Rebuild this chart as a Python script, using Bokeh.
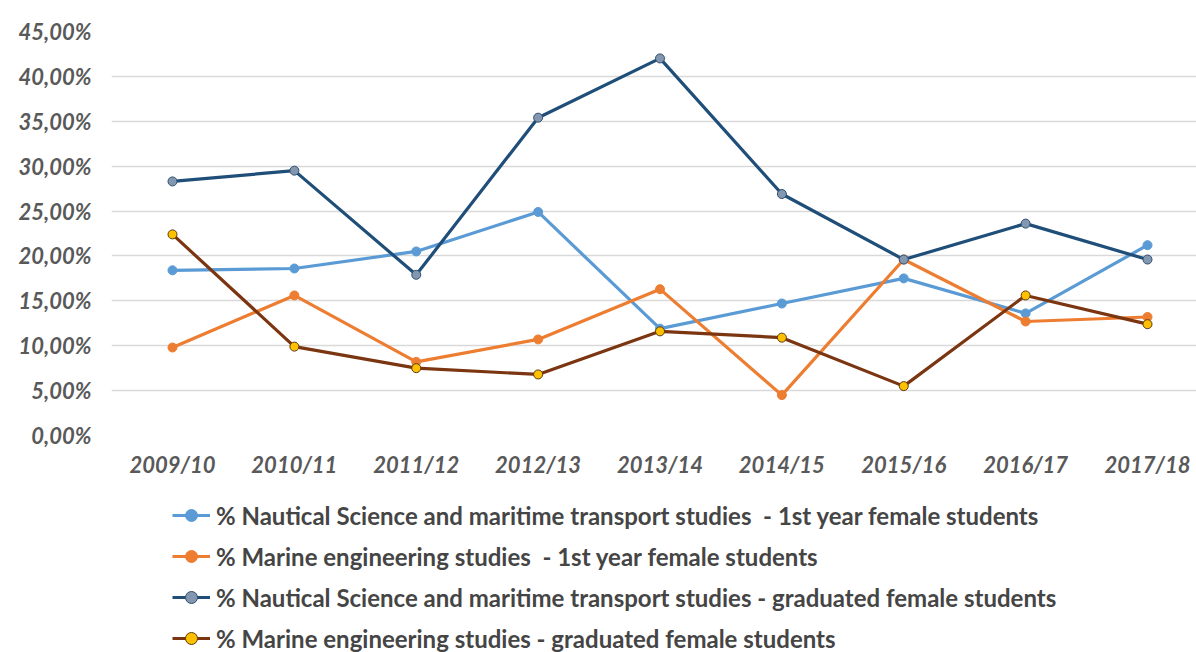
from bokeh.plotting import figure
from bokeh.layouts import column
from bokeh.models import Range1d, FixedTicker, Legend, LegendItem
from bokeh.embed import file_html
from bokeh.resources import INLINE

years = ["2009/10", "2010/11", "2011/12", "2012/13", "2013/14",
         "2014/15", "2015/16", "2016/17", "2017/18"]
nautical_1st = [18.4, 18.6, 20.5, 24.9, 11.9, 14.7, 17.5, 13.6, 21.2]
marine_1st = [9.8, 15.6, 8.2, 10.7, 16.3, 4.5, 19.6, 12.7, 13.2]
nautical_grad = [28.3, 29.5, 17.9, 35.4, 42.0, 26.9, 19.6, 23.6, 19.6]
marine_grad = [22.4, 9.9, 7.5, 6.8, 11.6, 10.9, 5.5, 15.6, 12.4]
y_ticks = [0, 5, 10, 15, 20, 25, 30, 35, 40, 45]
y_tick_labels = ["0,00%", "5,00%", "10,00%", "15,00%", "20,00%",
                 "25,00%", "30,00%", "35,00%", "40,00%", "45,00%"]
labels = [
    "% Nautical Science and maritime transport studies  - 1st year female students",
    "% Marine engineering studies  - 1st year female students",
    "% Nautical Science and maritime transport studies - graduated female students",
    "% Marine engineering studies - graduated female students",
]

xs = list(range(len(years)))

MAIN_H = 480
p = figure(width=1196, height=MAIN_H, output_backend="svg", toolbar_location=None,
           x_range=Range1d(-0.5005, 8.402), y_range=Range1d(0, 45),
           min_border_left=111, min_border_right=0, min_border_top=31,
           min_border_bottom=MAIN_H - 438)
p.outline_line_color = None
p.background_fill_color = "white"
p.border_fill_color = "white"

p.xgrid.grid_line_color = None
p.ygrid.grid_line_color = "#d9d9d9"
p.ygrid.grid_line_width = 1.5

p.yaxis.ticker = FixedTicker(ticks=y_ticks)
p.yaxis.major_label_overrides = {t: l for t, l in zip(y_ticks, y_tick_labels)}
p.xaxis.ticker = FixedTicker(ticks=xs)
p.xaxis.major_label_overrides = {i: y for i, y in zip(xs, years)}

for ax in (p.xaxis, p.yaxis):
    ax.axis_line_color = None
    ax.major_tick_line_color = None
    ax.minor_tick_line_color = None
    ax.major_tick_out = 0
    ax.major_tick_in = 0
    ax.major_label_text_font = "Lato"
    ax.major_label_text_font_style = "bold italic"
    ax.major_label_text_color = "#595959"
    ax.major_label_text_font_size = "22px"
p.yaxis.major_label_standoff = 20
p.xaxis.major_label_standoff = 15

series = [
    (nautical_1st, "#5b9bd5", "#5b9bd5", "#5b9bd5"),
    (marine_1st, "#ed7d31", "#ed7d31", "#ed7d31"),
    (nautical_grad, "#1f4e79", "#8497b0", "#2f4f6f"),
    (marine_grad, "#7b3510", "#ffc000", "#5a3a10"),
]
for vals, lc, fc, oc in series:
    p.line(xs, vals, line_color=lc, line_width=3.2)
    p.scatter(xs, vals, size=9, fill_color=fc, line_color=oc, line_width=1)

# legend panel (its renderers carry the same series, kept out of view)
LEG_H = 652 - MAIN_H
q = figure(width=1196, height=LEG_H, output_backend="svg", toolbar_location=None,
           x_range=Range1d(0, 1), y_range=Range1d(-2, -1),
           min_border_left=111, min_border_right=0, min_border_top=0,
           min_border_bottom=0)
q.axis.visible = False
q.grid.grid_line_color = None
q.outline_line_color = None
q.border_fill_color = "white"
items = []
for (vals, lc, fc, oc), lab in zip(series, labels):
    r1 = q.line(xs, vals, line_color=lc, line_width=3.2)
    r2 = q.scatter(xs, vals, size=8, fill_color=fc, line_color=oc, line_width=1)
    items.append(LegendItem(label=lab, renderers=[r1, r2]))

legend = Legend(items=items, location=(61, -1), orientation="vertical",
                glyph_width=38, glyph_height=30, label_height=30,
                label_standoff=6, spacing=11, padding=0, margin=0,
                border_line_color=None, background_fill_alpha=0,
                label_text_font="Lato", label_text_font_size="24px",
                label_text_color="#454545", label_text_font_style="bold")
q.add_layout(legend, "center")

open("out.html", "w").write(file_html(column(p, q, spacing=0), INLINE))
